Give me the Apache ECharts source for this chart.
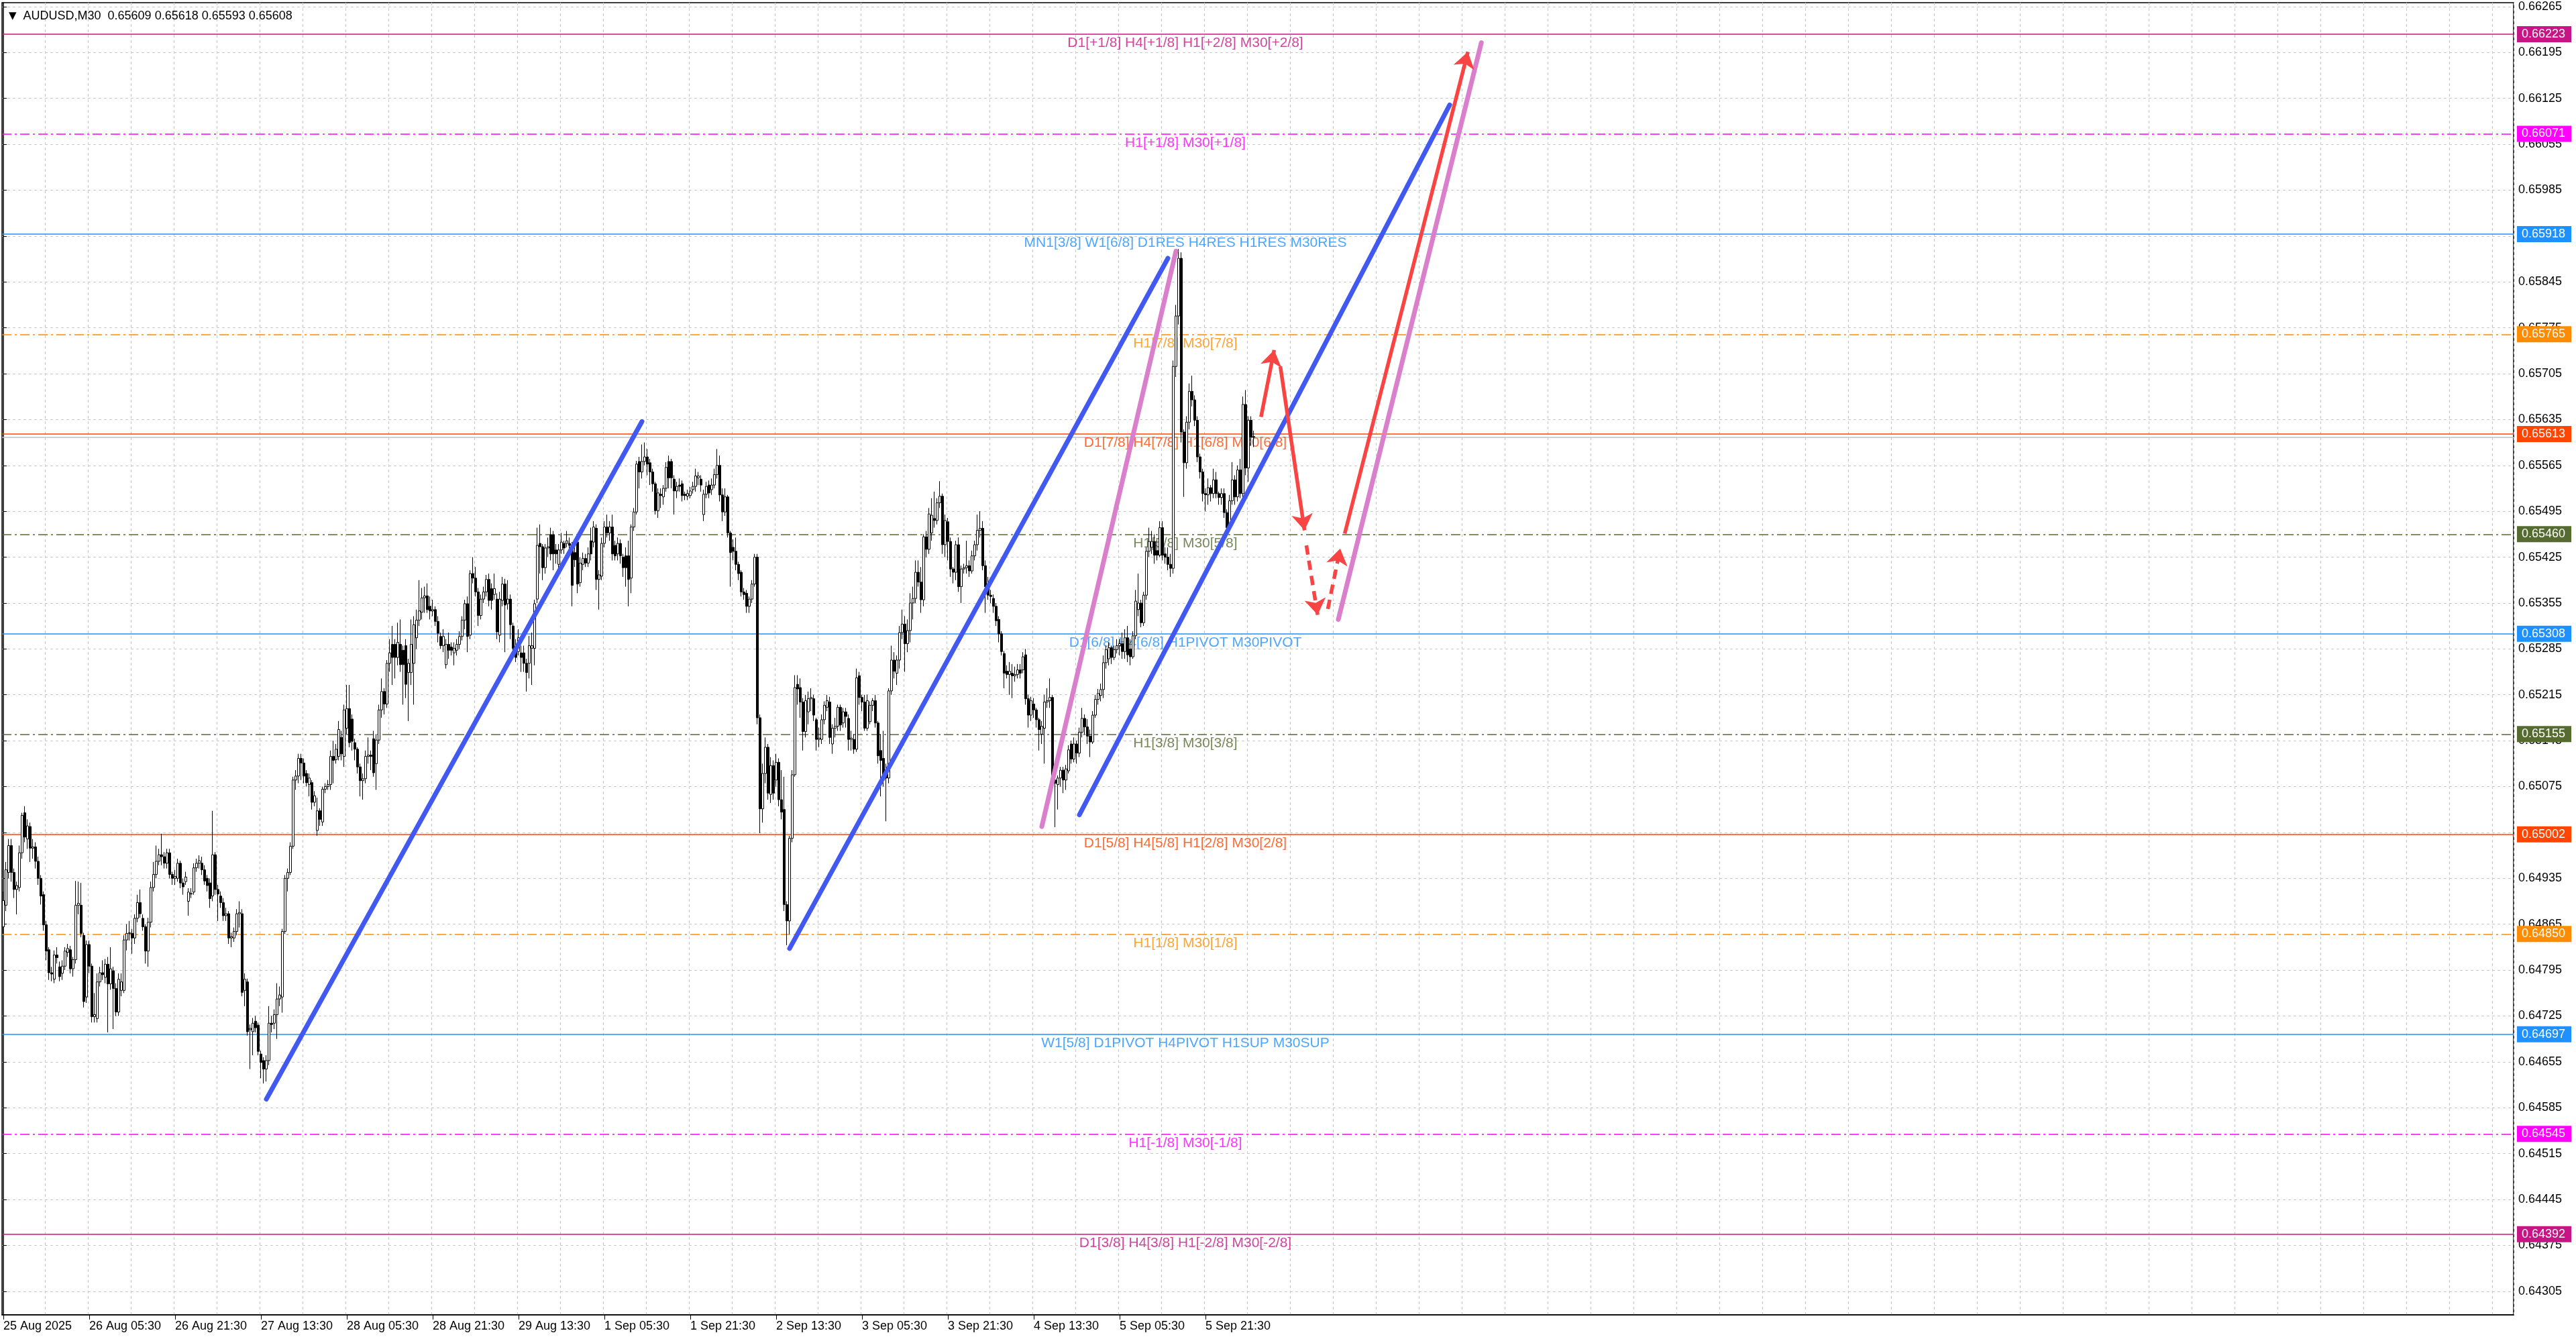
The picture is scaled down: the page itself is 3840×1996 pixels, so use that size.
<!DOCTYPE html>
<html><head><meta charset="utf-8">
<script src="https://cdn.jsdelivr.net/npm/echarts@6/dist/echarts.min.js"></script>
<style>html,body{margin:0;padding:0;background:#fff}#c{width:3840px;height:1996px}</style>
</head><body><div id="c"></div>
<script>
// ---------- DATA (prices in points: 1 point = 0.00001) ----------
const symbolName = 'AUDUSD,M30';
const lastOHLC = [0.65609, 0.65618, 0.65593, 0.65608];
const openPts = [
64861,64894,64944,64985,64944,64918,64921,64974,65035,64995,
65014,64981,64983,64961,64935,64910,64864,64826,64791,64781,
64818,64800,64790,64801,64822,64826,64797,64811,64894,64894,
64848,64754,64834,64801,64724,64721,64777,64791,64784,64804,
64774,64794,64767,64731,64764,64764,64841,64851,64851,64844,
64874,64898,64874,64861,64824,64868,64921,64941,64961,64971,
64968,64958,64974,64941,64935,64935,64958,64928,64930,64900,
64911,64914,64951,64958,64958,64948,64935,64928,64908,64971,
64918,64908,64898,64878,64881,64844,64844,64854,64881,64881,
64764,64777,64704,64701,64717,64711,64667,64657,64644,64657,
64714,64714,64727,64751,64754,64854,64935,64944,64984,65085,
65091,65118,65111,65095,65078,65081,65051,65008,65038,65021,
65071,65075,65078,65121,65116,65121,65150,65121,65164,65194,
65178,65142,65132,65105,65084,65087,65121,65123,65148,65110,
65146,65192,65220,65201,65263,65292,65292,65272,65292,65283,
65290,65249,65249,65263,65302,65329,65341,65363,65366,65350,
65343,65345,65327,65304,65290,65261,65292,65288,65279,65283,
65292,65304,65329,65354,65306,65400,65393,65372,65336,65361,
65372,65391,65377,65368,65361,65306,65359,65384,65354,65361,
65320,65286,65281,65279,65279,65263,65263,65286,65286,65361,
65446,65441,65409,65439,65459,65459,65436,65414,65436,65446,
65446,65446,65441,65432,65448,65386,65414,65423,65416,65450,
65448,65469,65391,65396,65446,65471,65462,65471,65443,65430,
65446,65425,65427,65427,65393,65471,65494,65571,65555,65571,
65578,65569,65555,65537,65496,65521,65517,65530,65571,65571,
65544,65526,65535,65537,65521,65518,65519,65528,65533,65546,
65544,65490,65521,65535,65528,65535,65551,65565,65520,65494,
65517,65462,65440,65434,65414,65402,65372,65370,65350,65361,
65384,65425,65180,65041,65095,65135,65063,65107,65085,65112,
65055,65040,64895,64870,64996,65093,65231,65226,65204,65159,
65189,65209,65209,65177,65147,65147,65177,65196,65204,65140,
65164,65167,65196,65172,65189,65179,65147,65147,65132,65244,
65211,65204,65164,65174,65199,65206,65172,65130,65118,65100,
65088,65221,65268,65248,65268,65310,65323,65293,65313,65355,
65362,65402,65387,65360,65456,65437,65462,65484,65481,65508,
65518,65444,65479,65449,65407,65402,65444,65380,65407,65409,
65412,65404,65427,65444,65466,65469,65412,65380,65367,65362,
65350,65330,65308,65278,65251,65246,65248,65244,65246,65253,
65253,65276,65209,65184,65201,65192,65177,65155,65164,65204,
65206,65211,65085,65078,65088,65100,65085,65099,65140,65117,
65140,65126,65158,65179,65166,65152,65143,65184,65208,65214,
65223,65264,65270,65287,65272,65284,65290,65293,65281,65302,
65285,65273,65305,65345,65355,65325,65367,65434,65440,65449,
65435,65428,65470,65430,65425,65414,65408,65716,65793,65881,
65616,65569,65631,65678,65665,65634,65578,65555,65522,65520,
65531,65522,65543,65522,65516,65522,65493,65470,65511,65543,
65517,65558,65522,65658,65561,65634,65609];
const closePts = [
64901,64948,64985,64944,64918,64924,64974,65031,64998,65015,
64981,64983,64961,64935,64908,64864,64824,64791,64789,64818,
64814,64785,64801,64824,64828,64797,64811,64894,64897,64851,
64747,64834,64801,64724,64727,64777,64791,64788,64804,64774,
64797,64767,64731,64781,64777,64841,64851,64852,64844,64874,
64898,64881,64861,64824,64868,64921,64941,64961,64971,64968,
64958,64974,64941,64935,64938,64958,64928,64922,64937,64914,
64912,64951,64958,64962,64948,64931,64924,64904,64971,64918,
64911,64898,64878,64881,64844,64846,64854,64881,64883,64761,
64781,64701,64706,64714,64707,64671,64654,64644,64657,64714,
64712,64727,64751,64757,64854,64935,64944,64984,65085,65091,
65118,65111,65091,65081,65088,65051,65061,65038,65025,65071,
65075,65078,65121,65115,65132,65162,65125,65192,65194,65142,
65144,65132,65105,65084,65087,65121,65123,65121,65096,65146,
65192,65220,65201,65263,65279,65272,65272,65295,65261,65261,
65231,65263,65292,65322,65329,65343,65363,65366,65345,65343,
65345,65327,65309,65290,65304,65292,65283,65283,65286,65292,
65304,65329,65354,65304,65400,65393,65372,65336,65361,65372,
65391,65359,65359,65377,65311,65361,65384,65352,65361,65322,
65286,65272,65302,65272,65263,65249,65290,65290,65354,65443,
65441,65409,65439,65441,65430,65430,65430,65436,65448,65439,
65450,65443,65382,65421,65384,65416,65423,65416,65430,65430,
65471,65391,65398,65446,65471,65462,65471,65430,65427,65446,
65427,65409,65409,65391,65471,65494,65567,65555,65571,65578,
65567,65555,65537,65496,65523,65519,65530,65562,65546,65546,
65526,65533,65533,65519,65519,65522,65526,65533,65549,65549,
65535,65521,65533,65523,65535,65551,65565,65520,65494,65517,
65462,65432,65434,65414,65400,65372,65368,65350,65361,65384,
65425,65180,65041,65095,65135,65065,65107,65065,65112,65055,
65036,64895,64870,64996,65093,65226,65224,65204,65159,65206,
65209,65211,65184,65147,65149,65177,65199,65206,65150,65164,
65167,65196,65169,65189,65182,65147,65149,65132,65241,65211,
65204,65164,65206,65199,65206,65172,65122,65115,65085,65088,
65221,65268,65251,65268,65310,65323,65293,65313,65355,65362,
65402,65387,65360,65456,65437,65491,65489,65481,65508,65518,
65444,65481,65449,65407,65402,65444,65380,65407,65409,65412,
65404,65427,65444,65466,65469,65412,65380,65367,65365,65350,
65328,65308,65281,65248,65246,65251,65244,65246,65253,65248,
65273,65209,65184,65206,65192,65177,65162,65167,65204,65206,
65211,65085,65080,65088,65100,65085,65102,65131,65117,65140,
65126,65158,65179,65166,65152,65143,65184,65208,65217,65223,
65264,65284,65287,65272,65284,65290,65293,65281,65302,65276,
65273,65305,65358,65355,65325,65367,65434,65449,65449,65428,
65428,65470,65428,65425,65414,65408,65716,65793,65881,65616,
65569,65631,65678,65665,65634,65578,65555,65522,65520,65531,
65522,65543,65522,65516,65522,65493,65470,65511,65543,65517,
65558,65522,65658,65561,65634,65608,65608];
const lowPts = [
64850,64885,64935,64930,64905,64880,64915,64965,64990,64980,
64960,64965,64950,64925,64895,64855,64810,64780,64778,64775,
64805,64778,64780,64795,64815,64790,64785,64805,64880,64845,
64738,64745,64790,64715,64715,64715,64770,64780,64775,64700,
64765,64705,64725,64725,64755,64760,64825,64840,64820,64835,
64868,64875,64855,64805,64800,64860,64915,64935,64955,64955,
64950,64950,64935,64925,64925,64930,64920,64910,64925,64878,
64905,64910,64945,64950,64940,64925,64915,64890,64900,64910,
64870,64890,64870,64870,64835,64830,64838,64848,64860,64755,
64740,64695,64644,64665,64700,64665,64630,64622,64625,64650,
64700,64705,64690,64740,64730,64850,64915,64940,64980,65070,
65080,65085,65080,65075,65060,65040,65045,65000,65015,65015,
65065,65070,65070,65080,65110,65115,65115,65105,65155,65135,
65130,65115,65095,65060,65055,65080,65110,65100,65090,65070,
65140,65180,65185,65195,65250,65230,65240,65260,65250,65200,
65210,65175,65230,65200,65285,65320,65330,65340,65340,65330,
65335,65320,65295,65285,65280,65255,65270,65275,65260,65275,
65285,65298,65315,65280,65300,65385,65365,65320,65330,65355,
65365,65350,65345,65360,65300,65295,65350,65280,65345,65300,
65280,65265,65275,65250,65250,65220,65240,65230,65260,65355,
65400,65390,65400,65425,65420,65405,65415,65405,65430,65430,
65440,65430,65350,65410,65370,65380,65405,65410,65410,65420,
65440,65375,65345,65390,65440,65455,65450,65420,65420,65420,
65415,65395,65380,65350,65370,65465,65490,65530,65545,65565,
65550,65535,65525,65490,65485,65500,65505,65525,65530,65530,
65490,65515,65525,65510,65512,65512,65515,65522,65525,65535,
65525,65480,65515,65515,65520,65530,65545,65510,65480,65488,
65455,65380,65420,65405,65390,65365,65360,65340,65340,65355,
65380,65170,65004,65020,65080,65055,65050,65055,65075,65045,
65025,64885,64833,64850,64990,65090,65200,65180,65130,65150,
65170,65190,65175,65130,65135,65140,65170,65190,65140,65125,
65150,65160,65160,65165,65165,65130,65130,65125,65128,65200,
65190,65160,65160,65170,65190,65165,65110,65060,65075,65022,
65080,65215,65240,65230,65255,65300,65250,65280,65295,65330,
65355,65380,65340,65350,65425,65430,65450,65470,65475,65500,
65430,65425,65420,65395,65385,65390,65372,65355,65400,65400,
65395,65400,65420,65435,65455,65405,65340,65360,65355,65340,
65320,65295,65275,65225,65240,65215,65210,65235,65240,65240,
65248,65200,65165,65175,65180,65165,65130,65140,65110,65195,
65195,65070,65013,65040,65075,65065,65070,65095,65110,65112,
65110,65120,65150,65155,65140,65120,65140,65180,65200,65205,
65210,65255,65260,65262,65268,65278,65275,65270,65270,65265,
65260,65270,65300,65335,65318,65320,65360,65425,65430,65415,
65420,65425,65420,65415,65405,65395,65400,65700,65780,65600,
65517,65560,65620,65655,65625,65570,65545,65510,65495,65505,
65510,65515,65515,65505,65505,65485,65465,65465,65505,65505,
65510,65515,65515,65550,65540,65595,65593];
const highPts = [
64915,64960,64995,64995,64950,64930,64985,65035,65045,65025,
65020,64995,64990,64968,64940,64915,64870,64830,64800,64825,
64830,64808,64810,64830,64835,64832,64815,64931,64930,64928,
64852,64840,64840,64805,64760,64790,64800,64810,64812,64815,
64830,64800,64775,64790,64790,64848,64865,64870,64858,64880,
64910,64918,64880,64865,64875,64930,64960,64985,64980,65003,
64975,64980,64980,64945,64948,64965,64962,64935,64945,64920,
64920,64958,64965,64970,64968,64955,64940,64935,65038,64975,
64925,64915,64905,64890,64885,64852,64860,64888,64900,64888,
64790,64782,64712,64722,64725,64715,64672,64662,64665,64740,
64725,64735,64775,64770,64858,64940,64950,64990,65090,65100,
65125,65125,65118,65100,65095,65085,65068,65058,65042,65075,
65080,65085,65130,65145,65140,65175,65160,65200,65230,65230,
65185,65148,65135,65110,65095,65130,65150,65130,65160,65155,
65200,65240,65225,65268,65300,65320,65300,65325,65330,65290,
65300,65270,65330,65335,65345,65390,65378,65380,65385,65365,
65360,65350,65335,65310,65315,65300,65310,65295,65295,65300,
65312,65335,65360,65365,65405,65425,65410,65378,65368,65380,
65398,65400,65385,65400,65370,65372,65395,65392,65390,65368,
65325,65300,65315,65290,65290,65270,65305,65310,65360,65470,
65475,65445,65445,65455,65470,65465,65445,65445,65462,65450,
65465,65455,65448,65440,65452,65425,65432,65430,65440,65470,
65480,65475,65405,65455,65480,65490,65480,65490,65450,65455,
65452,65430,65440,65450,65475,65500,65572,65578,65597,65600,
65590,65575,65560,65540,65530,65530,65535,65570,65580,65575,
65550,65540,65545,65542,65525,65528,65532,65540,65560,65555,
65550,65528,65540,65542,65545,65560,65590,65580,65530,65530,
65520,65465,65452,65455,65418,65405,65378,65375,65365,65390,
65430,65430,65185,65110,65150,65140,65120,65115,65125,65118,
65100,65090,64900,65000,65100,65245,65245,65240,65210,65215,
65220,65225,65215,65180,65165,65185,65205,65215,65212,65170,
65180,65200,65200,65195,65195,65185,65160,65155,65255,65250,
65215,65215,65215,65205,65210,65215,65175,65155,65160,65110,
65225,65290,65280,65275,65320,65345,65335,65330,65370,65380,
65420,65420,65410,65460,65465,65500,65515,65525,65515,65541,
65522,65490,65485,65455,65410,65450,65455,65412,65415,65450,
65420,65435,65450,65490,65495,65480,65420,65395,65375,65368,
65355,65335,65312,65282,65260,65265,65262,65258,65262,65262,
65280,65285,65215,65212,65210,65195,65180,65175,65215,65225,
65240,65215,65090,65092,65105,65105,65108,65138,65145,65150,
65145,65165,65195,65185,65178,65162,65190,65215,65224,65232,
65275,65290,65295,65290,65290,65300,65300,65310,65315,65320,
65300,65312,65375,65400,65360,65372,65440,65470,65465,65460,
65450,65480,65480,65440,65440,65430,65725,65810,65895,65890,
65620,65640,65690,65702,65672,65640,65583,65560,65530,65545,
65535,65560,65555,65525,65530,65530,65498,65520,65570,65550,
65565,65575,65670,65680,65640,65640,65618];
const POINT = 0.00001;

// x-axis: one slot per M30 bar, labels every 32 bars
const timeLabels = ['25 Aug 2025','26 Aug 05:30','26 Aug 21:30','27 Aug 13:30','28 Aug 05:30','28 Aug 21:30',
  '29 Aug 13:30','1 Sep 05:30','1 Sep 21:30','2 Sep 13:30','3 Sep 05:30','3 Sep 21:30','4 Sep 13:30',
  '5 Sep 05:30','5 Sep 21:30'];
const barsPerLabel = 32;
const barsPerGrid = 16;
const totalSlots = 936;

// y-axis tick labels
const yTicks = [0.66265,0.66195,0.66125,0.66055,0.65985,0.65915,0.65845,0.65775,0.65705,0.65635,
  0.65565,0.65495,0.65425,0.65355,0.65285,0.65215,0.65145,0.65075,0.65005,0.64935,0.64865,
  0.64795,0.64725,0.64655,0.64585,0.64515,0.64445,0.64375,0.64305];

// Murrey-math style levels
const levelPrices = [0.66223,0.66071,0.65918,0.65765,0.65613,0.65460,0.65308,0.65155,0.65002,0.64850,0.64697,0.64545,0.64392];
const levelTexts = [
  'D1[+1/8] H4[+1/8] H1[+2/8] M30[+2/8]',
  'H1[+1/8] M30[+1/8]',
  'MN1[3/8] W1[6/8] D1RES H4RES H1RES M30RES',
  'H1[7/8] M30[7/8]',
  'D1[7/8] H4[7/8] H1[6/8] M30[6/8]',
  'H1[5/8] M30[5/8]',
  'D1[6/8] H4[6/8] H1PIVOT M30PIVOT',
  'H1[3/8] M30[3/8]',
  'D1[5/8] H4[5/8] H1[2/8] M30[2/8]',
  'H1[1/8] M30[1/8]',
  'W1[5/8] D1PIVOT H4PIVOT H1SUP M30SUP',
  'H1[-1/8] M30[-1/8]',
  'D1[3/8] H4[3/8] H1[-2/8] M30[-2/8]'];
const levelColors = ['#C71585','#FF00FF','#1E90FF','#FF8C00','#FF4500','#556B2F','#1E90FF','#556B2F','#FF4500','#FF8C00','#1E90FF','#FF00FF','#C71585'];
const levelDashDot = [false,true,false,true,false,true,false,true,false,true,false,true,false];
const bidPrice = 0.65608;
const levelLabelBar = 440.5;

// hand-drawn objects: [barFrom, priceFrom, barTo, priceTo]
const blueLines = [[98,0.64598,238,0.65632],[293,0.64828,434,0.65881],[401,0.65032,539,0.66115]];
const violetLines = [[387,0.65014,437,0.65892],[497.5,0.65330,550.8,0.66210]];
const solidArrows = [[468.7,0.65639,473.6,0.65741],[475.9,0.65716,484.9,0.65466],[499.9,0.65461,545.8,0.66196]];
const dashedArrows = [[485.6,0.65443,489.8,0.65337],[493.6,0.65346,498.2,0.65438]];

// ---------- CHART ----------
const FONT = 'Liberation Sans, Arial, sans-serif';
const categories = Array.from({length: totalSlots}, (_, i) => String(i));
const candles = openPts.map((o, i) => [o * POINT, closePts[i] * POINT, lowPts[i] * POINT, highPts[i] * POINT]);
const isLabelIdx = (i) => i % barsPerLabel === 0 && i / barsPerLabel < timeLabels.length;

const levelMarkData = levelPrices.map((p, i) => ({
  yAxis: p,
  lineStyle: {color: levelColors[i], width: 1.5, type: levelDashDot[i] ? [14, 5, 3, 5] : 'solid'},
  label: {show: true, position: 'end', distance: 5, formatter: p.toFixed(5), color: '#fff',
    backgroundColor: levelColors[i], padding: [4, 9, 2, 7], fontSize: 18, fontFamily: FONT}
}));
levelMarkData.unshift({yAxis: bidPrice, lineStyle: {color: '#C0C0C0', width: 1.5, type: 'solid'}, label: {show: false}});

const trendSeries = (arr, color) => arr.map(t => ({
  type: 'line', xAxisIndex: 1, yAxisIndex: 0, data: [[t[0], t[1]], [t[2], t[3]]],
  symbol: 'none', silent: true, z: 6, animation: false,
  lineStyle: {color: color, width: 7, cap: 'round'}
}));

const arrowMark = (arr, dashed) => arr.map(a => [
  {coord: [a[0], a[1]], symbol: 'none'},
  {coord: [a[2], a[3]], symbol: 'arrow', symbolSize: 24,
    lineStyle: {color: '#F94444', width: 5.5, type: dashed ? [14, 9] : 'solid'}}
]);

const option = {
  animation: false,
  backgroundColor: '#fff',
  title: {
    text: '{t|▼}  ' + symbolName + '  ' + lastOHLC.map(v => v.toFixed(5)).join(' '),
    left: 8, top: 10,
    textStyle: {fontSize: 18, fontWeight: 'normal', color: '#000', fontFamily: FONT,
      rich: {t: {fontSize: 15, color: '#000', fontFamily: 'DejaVu Sans'}}}
  },
  grid: {left: 3, right: 93, top: 4, bottom: 36, show: true, borderColor: '#000', borderWidth: 1.5, backgroundColor: '#fff'},
  xAxis: [{
    type: 'category', data: categories, boundaryGap: true,
    axisLine: {show: true, lineStyle: {color: '#000', width: 1.5}},
    axisTick: {show: true, interval: (i) => isLabelIdx(i), alignWithLabel: true, length: 7, lineStyle: {color: '#000'}},
    axisLabel: {show: true, interval: (i) => isLabelIdx(i), formatter: (v, i) => timeLabels[i / barsPerLabel] || '',
      align: 'left', color: '#000', fontSize: 18, fontFamily: FONT, margin: 8},
    splitLine: {show: true, interval: (i) => i % barsPerGrid === 0 && i > 0, lineStyle: {color: '#C8C8C8', type: [4, 4], width: 1}}
  }, {
    type: 'value', min: -0.5, max: totalSlots - 0.5, show: false
  }],
  yAxis: {
    type: 'value', position: 'right', min: 0.64269, max: 0.66271, scale: false,
    axisLine: {show: true, lineStyle: {color: '#000', width: 1.5}},
    axisTick: {show: true, length: 5, customValues: yTicks, lineStyle: {color: '#000'}},
    axisLabel: {show: true, customValues: yTicks, formatter: (v) => v.toFixed(5), color: '#000', fontSize: 18, fontFamily: FONT, margin: 7},
    splitLine: {show: true, lineStyle: {color: '#C8C8C8', type: [4, 4], width: 1}}
  },
  series: [
    {
      type: 'scatter', xAxisIndex: 1, yAxisIndex: 0, z: 1, silent: true, symbolSize: 0,
      data: levelPrices.map((p, i) => ({value: [levelLabelBar, p],
        label: {show: true, position: 'bottom', distance: 3, formatter: levelTexts[i], color: levelColors[i], fontSize: 21, fontFamily: FONT}})),
      markLine: {silent: true, symbol: 'none', animation: false, z: 1, precision: 5, data: levelMarkData}
    },
    {
      type: 'candlestick', xAxisIndex: 0, yAxisIndex: 0, z: 3, data: candles, barWidth: 3, silent: true,
      itemStyle: {color: '#fff', color0: '#000', borderColor: '#000', borderColor0: '#000', borderWidth: 1}
    },
    ...trendSeries(blueLines, '#4159F0'),
    ...trendSeries(violetLines, '#DA7FCB'),
    {
      type: 'scatter', xAxisIndex: 1, yAxisIndex: 0, z: 7, silent: true, symbolSize: 0,
      data: solidArrows.concat(dashedArrows).map(a => [a[0], a[1]]),
      markLine: {silent: true, animation: false, z: 7, symbolSize: 24, precision: 5,
        lineStyle: {color: '#F94444', width: 5.5},
        label: {show: false},
        data: arrowMark(solidArrows, false).concat(arrowMark(dashedArrows, true))}
    }
  ]
};
const chart = echarts.init(document.getElementById('c'), null, {renderer: 'canvas'});
chart.setOption(option);
</script>
</body></html>
